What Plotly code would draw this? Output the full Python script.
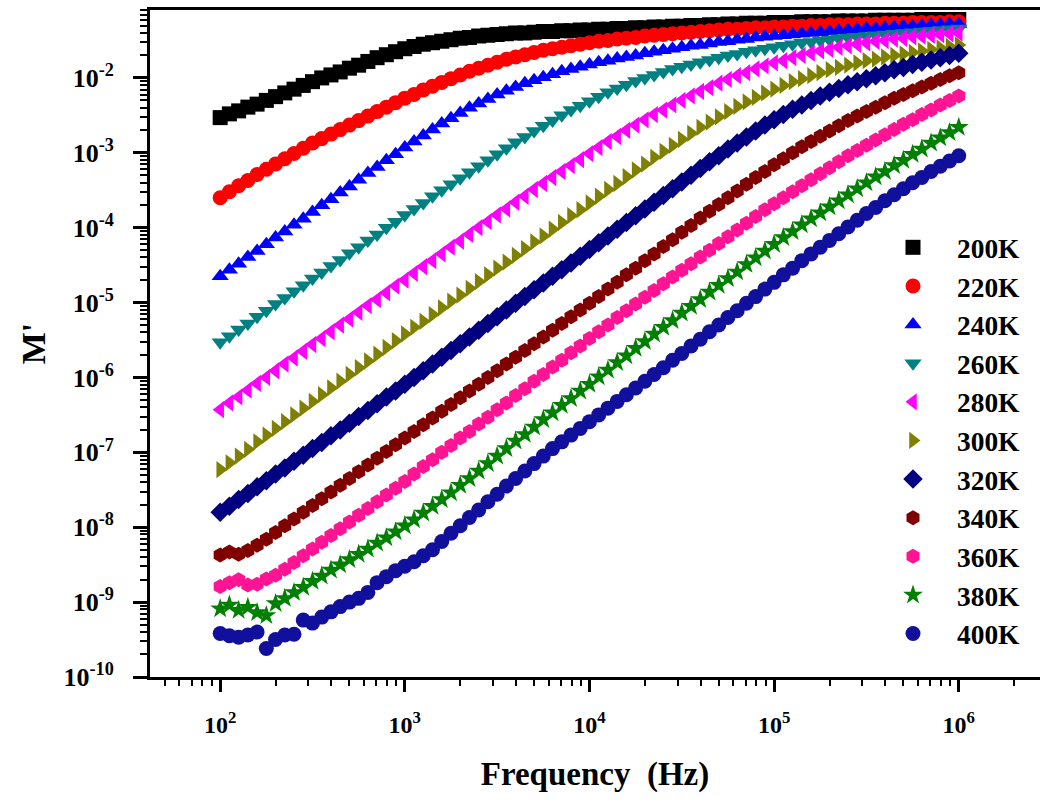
import plotly.graph_objects as go

# ---- data (log10 of frequency in Hz, log10 of M') ----
LOG_F = [2.00, 2.05, 2.10, 2.15, 2.20, 2.25, 2.30, 2.35, 2.40, 2.45,
         2.50, 2.55, 2.60, 2.65, 2.70, 2.75, 2.80, 2.85, 2.90, 2.95,
         3.00, 3.05, 3.10, 3.15, 3.20, 3.25, 3.30, 3.35, 3.40, 3.45,
         3.50, 3.55, 3.60, 3.65, 3.70, 3.75, 3.80, 3.85, 3.90, 3.95,
         4.00, 4.05, 4.10, 4.15, 4.20, 4.25, 4.30, 4.35, 4.40, 4.45,
         4.50, 4.55, 4.60, 4.65, 4.70, 4.75, 4.80, 4.85, 4.90, 4.95,
         5.00, 5.05, 5.10, 5.15, 5.20, 5.25, 5.30, 5.35, 5.40, 5.45,
         5.50, 5.55, 5.60, 5.65, 5.70, 5.75, 5.80, 5.85, 5.90, 5.95,
         6.00]

M_200K = [-2.53, -2.48, -2.44, -2.39, -2.35, -2.30, -2.25, -2.20, -2.15, -2.10,
          -2.05, -2.00, -1.96, -1.92, -1.87, -1.83, -1.78, -1.73, -1.69, -1.65,
          -1.61, -1.58, -1.55, -1.53, -1.51, -1.49, -1.47, -1.46, -1.44, -1.43,
          -1.42, -1.41, -1.40, -1.40, -1.39, -1.38, -1.38, -1.37, -1.37, -1.36,
          -1.36, -1.35, -1.35, -1.34, -1.34, -1.33, -1.33, -1.32, -1.32, -1.31,
          -1.31, -1.30, -1.30, -1.29, -1.29, -1.28, -1.28, -1.27, -1.27, -1.27,
          -1.26, -1.26, -1.26, -1.25, -1.25, -1.25, -1.25, -1.24, -1.24, -1.24,
          -1.24, -1.23, -1.23, -1.23, -1.23, -1.23, -1.22, -1.22, -1.22, -1.22,
          -1.22]
M_220K = [-3.60, -3.52, -3.44, -3.37, -3.29, -3.22, -3.15, -3.08, -3.01, -2.94,
          -2.87, -2.81, -2.75, -2.69, -2.63, -2.57, -2.51, -2.45, -2.39, -2.33,
          -2.27, -2.22, -2.16, -2.11, -2.06, -2.01, -1.96, -1.91, -1.87, -1.83,
          -1.79, -1.75, -1.72, -1.69, -1.66, -1.63, -1.61, -1.59, -1.57, -1.55,
          -1.53, -1.51, -1.50, -1.48, -1.47, -1.46, -1.44, -1.43, -1.42, -1.41,
          -1.40, -1.39, -1.38, -1.37, -1.36, -1.35, -1.35, -1.34, -1.33, -1.33,
          -1.32, -1.32, -1.31, -1.31, -1.30, -1.30, -1.29, -1.29, -1.29, -1.28,
          -1.28, -1.28, -1.27, -1.27, -1.27, -1.26, -1.26, -1.26, -1.26, -1.25,
          -1.25]
M_240K = [-4.65, -4.56, -4.48, -4.39, -4.31, -4.22, -4.13, -4.05, -3.96, -3.88,
          -3.79, -3.70, -3.62, -3.53, -3.45, -3.36, -3.27, -3.19, -3.10, -3.02,
          -2.93, -2.85, -2.77, -2.69, -2.61, -2.54, -2.47, -2.40, -2.34, -2.28,
          -2.22, -2.17, -2.12, -2.07, -2.03, -1.99, -1.95, -1.91, -1.88, -1.85,
          -1.82, -1.79, -1.77, -1.74, -1.72, -1.70, -1.67, -1.65, -1.63, -1.61,
          -1.59, -1.57, -1.56, -1.54, -1.52, -1.51, -1.49, -1.48, -1.46, -1.45,
          -1.44, -1.43, -1.42, -1.41, -1.40, -1.39, -1.38, -1.37, -1.36, -1.35,
          -1.34, -1.34, -1.33, -1.32, -1.31, -1.31, -1.30, -1.29, -1.29, -1.28,
          -1.28]
M_260K = [-5.53, -5.45, -5.36, -5.28, -5.19, -5.11, -5.02, -4.94, -4.85, -4.77,
          -4.68, -4.60, -4.51, -4.43, -4.34, -4.26, -4.17, -4.09, -4.00, -3.92,
          -3.83, -3.75, -3.67, -3.58, -3.50, -3.42, -3.34, -3.26, -3.18, -3.10,
          -3.02, -2.94, -2.86, -2.79, -2.71, -2.64, -2.57, -2.50, -2.43, -2.37,
          -2.31, -2.25, -2.19, -2.14, -2.09, -2.04, -2.00, -1.96, -1.92, -1.88,
          -1.85, -1.82, -1.79, -1.76, -1.73, -1.70, -1.68, -1.65, -1.63, -1.61,
          -1.59, -1.57, -1.55, -1.53, -1.52, -1.50, -1.49, -1.47, -1.46, -1.45,
          -1.44, -1.43, -1.42, -1.41, -1.40, -1.39, -1.38, -1.37, -1.36, -1.35,
          -1.34]
M_280K = [-6.43, -6.34, -6.26, -6.17, -6.08, -6.00, -5.91, -5.82, -5.74, -5.65,
          -5.56, -5.48, -5.39, -5.30, -5.22, -5.13, -5.04, -4.96, -4.87, -4.78,
          -4.70, -4.61, -4.52, -4.44, -4.35, -4.26, -4.18, -4.09, -4.00, -3.92,
          -3.83, -3.75, -3.66, -3.58, -3.49, -3.41, -3.33, -3.25, -3.17, -3.09,
          -3.01, -2.93, -2.85, -2.78, -2.70, -2.63, -2.56, -2.49, -2.43, -2.36,
          -2.30, -2.24, -2.18, -2.13, -2.07, -2.02, -1.97, -1.93, -1.88, -1.84,
          -1.80, -1.77, -1.73, -1.70, -1.67, -1.64, -1.62, -1.59, -1.57, -1.55,
          -1.53, -1.51, -1.50, -1.48, -1.47, -1.45, -1.44, -1.43, -1.42, -1.41,
          -1.40]
M_300K = [-7.23, -7.14, -7.05, -6.96, -6.86, -6.77, -6.68, -6.59, -6.50, -6.41,
          -6.32, -6.23, -6.14, -6.05, -5.96, -5.87, -5.78, -5.69, -5.60, -5.51,
          -5.42, -5.33, -5.25, -5.16, -5.07, -4.98, -4.90, -4.81, -4.72, -4.63,
          -4.54, -4.46, -4.37, -4.28, -4.19, -4.11, -4.02, -3.93, -3.84, -3.76,
          -3.67, -3.58, -3.49, -3.41, -3.32, -3.23, -3.15, -3.06, -2.98, -2.90,
          -2.82, -2.74, -2.66, -2.59, -2.52, -2.45, -2.38, -2.32, -2.26, -2.20,
          -2.15, -2.10, -2.05, -2.01, -1.97, -1.93, -1.89, -1.86, -1.83, -1.80,
          -1.77, -1.75, -1.72, -1.70, -1.68, -1.66, -1.64, -1.62, -1.60, -1.58,
          -1.56]
M_320K = [-7.80, -7.72, -7.63, -7.55, -7.46, -7.38, -7.29, -7.21, -7.12, -7.04,
          -6.95, -6.87, -6.78, -6.70, -6.61, -6.52, -6.44, -6.35, -6.26, -6.18,
          -6.09, -6.00, -5.91, -5.82, -5.73, -5.64, -5.55, -5.46, -5.37, -5.28,
          -5.19, -5.10, -5.01, -4.92, -4.83, -4.74, -4.65, -4.56, -4.47, -4.38,
          -4.29, -4.20, -4.11, -4.02, -3.93, -3.84, -3.75, -3.66, -3.57, -3.48,
          -3.39, -3.30, -3.21, -3.12, -3.04, -2.95, -2.87, -2.79, -2.71, -2.63,
          -2.56, -2.49, -2.42, -2.36, -2.30, -2.24, -2.19, -2.14, -2.09, -2.05,
          -2.01, -1.97, -1.93, -1.89, -1.86, -1.82, -1.79, -1.76, -1.73, -1.70,
          -1.67]
M_340K = [-8.37, -8.33, -8.36, -8.31, -8.24, -8.16, -8.07, -7.98, -7.89, -7.80,
          -7.71, -7.62, -7.53, -7.44, -7.35, -7.26, -7.17, -7.08, -6.99, -6.90,
          -6.81, -6.72, -6.63, -6.54, -6.45, -6.36, -6.27, -6.18, -6.09, -6.00,
          -5.91, -5.82, -5.73, -5.64, -5.55, -5.46, -5.37, -5.28, -5.19, -5.10,
          -5.01, -4.92, -4.82, -4.73, -4.63, -4.54, -4.44, -4.35, -4.25, -4.16,
          -4.06, -3.97, -3.87, -3.78, -3.69, -3.60, -3.51, -3.42, -3.33, -3.25,
          -3.16, -3.08, -3.00, -2.92, -2.85, -2.78, -2.71, -2.64, -2.57, -2.51,
          -2.45, -2.39, -2.33, -2.27, -2.22, -2.17, -2.12, -2.07, -2.02, -1.97,
          -1.93]
M_360K = [-8.79, -8.74, -8.70, -8.77, -8.76, -8.69, -8.64, -8.56, -8.47, -8.38,
          -8.29, -8.20, -8.11, -8.02, -7.93, -7.84, -7.75, -7.66, -7.57, -7.48,
          -7.39, -7.29, -7.19, -7.10, -7.00, -6.91, -6.81, -6.72, -6.62, -6.53,
          -6.43, -6.34, -6.24, -6.15, -6.05, -5.96, -5.86, -5.77, -5.67, -5.58,
          -5.48, -5.39, -5.30, -5.20, -5.11, -5.02, -4.93, -4.84, -4.75, -4.66,
          -4.57, -4.48, -4.39, -4.30, -4.21, -4.12, -4.03, -3.94, -3.85, -3.76,
          -3.68, -3.60, -3.52, -3.44, -3.36, -3.28, -3.20, -3.12, -3.04, -2.97,
          -2.90, -2.83, -2.76, -2.69, -2.62, -2.56, -2.49, -2.43, -2.36, -2.30,
          -2.24]
M_380K = [-9.09, -9.04, -9.11, -9.07, -9.14, -9.18, -9.02, -8.95, -8.87, -8.80,
          -8.72, -8.65, -8.57, -8.50, -8.43, -8.36, -8.29, -8.21, -8.14, -8.06,
          -7.98, -7.90, -7.81, -7.72, -7.63, -7.54, -7.44, -7.35, -7.25, -7.15,
          -7.05, -6.95, -6.85, -6.76, -6.66, -6.56, -6.47, -6.37, -6.28, -6.18,
          -6.09, -5.99, -5.90, -5.80, -5.71, -5.61, -5.52, -5.42, -5.33, -5.24,
          -5.14, -5.05, -4.96, -4.86, -4.77, -4.68, -4.59, -4.49, -4.40, -4.31,
          -4.22, -4.13, -4.05, -3.96, -3.88, -3.80, -3.72, -3.64, -3.56, -3.48,
          -3.40, -3.32, -3.25, -3.17, -3.10, -3.02, -2.95, -2.87, -2.80, -2.73,
          -2.66]
M_400K = [-9.42, -9.45, -9.47, -9.44, -9.40, -9.62, -9.50, -9.44, -9.43, -9.24,
          -9.28, -9.20, -9.13, -9.06, -9.00, -8.95, -8.87, -8.74, -8.66, -8.58,
          -8.52, -8.46, -8.38, -8.30, -8.19, -8.08, -7.98, -7.87, -7.77, -7.66,
          -7.56, -7.45, -7.35, -7.25, -7.15, -7.05, -6.95, -6.86, -6.77, -6.68,
          -6.59, -6.50, -6.41, -6.32, -6.23, -6.14, -6.05, -5.96, -5.87, -5.77,
          -5.68, -5.58, -5.49, -5.39, -5.30, -5.20, -5.11, -5.01, -4.92, -4.82,
          -4.73, -4.63, -4.54, -4.44, -4.35, -4.26, -4.17, -4.08, -3.99, -3.90,
          -3.81, -3.73, -3.64, -3.56, -3.48, -3.40, -3.33, -3.25, -3.18, -3.11,
          -3.04]

NAMES = ["200K", "220K", "240K", "260K", "280K", "300K",
         "320K", "340K", "360K", "380K", "400K"]
SERIES = [M_200K, M_220K, M_240K, M_260K, M_280K, M_300K,
          M_320K, M_340K, M_360K, M_380K, M_400K]
COLORS = ["#000000", "#FF0000", "#0000FF", "#008080", "#FF00FF", "#808000",
          "#000080", "#800000", "#FF1493", "#008000", "#10109C"]
SYMBOLS = ["square", "circle", "triangle-up", "triangle-down", "triangle-left",
           "triangle-right", "diamond", "hexagon", "hexagon", "star", "circle"]

X_TICK_EXP = [2, 3, 4, 5, 6]
Y_TICK_EXP = [-10, -9, -8, -7, -6, -5, -4, -3, -2]

FONT = "Liberation Serif"

freq = [10 ** v for v in LOG_F]

fig = go.Figure()
for name, vals, col, sym in zip(NAMES, SERIES, COLORS, SYMBOLS):
    fig.add_trace(go.Scatter(
        x=freq, y=[10 ** v for v in vals], mode="markers", name=name,
        marker=dict(symbol=sym, size=15, color=col, line=dict(width=0)),
    ))

x_minor = [k * 10 ** e for e in range(1, 7) for k in range(2, 10)]
y_minor = [k * 10 ** e for e in range(-10, -1) for k in range(2, 10)]

fig.update_layout(
    width=1040, height=804,
    margin=dict(l=150, r=0, t=10, b=127),
    paper_bgcolor="white", plot_bgcolor="white",
    font=dict(family=FONT, color="black"),
    showlegend=True,
    legend=dict(
        x=(869 - 150) / 890, y=(677 - 223) / 667, xanchor="left", yanchor="top",
        font=dict(family=FONT, size=27.4, color="black", weight="bold"),
        bgcolor="rgba(0,0,0,0)", borderwidth=0, itemwidth=78,
    ),
    xaxis=dict(
        type="log", range=[1.62, 6.44],
        showline=True, linewidth=3, linecolor="black", mirror=True,
        showgrid=False, zeroline=False,
        ticks="outside", ticklen=12, tickwidth=3, tickcolor="black",
        tickvals=[10 ** e for e in X_TICK_EXP],
        ticktext=["10<sup>%d</sup>" % e for e in X_TICK_EXP],
        tickfont=dict(family=FONT, size=24, color="black", weight="bold"),
        ticklabelstandoff=12,
        minor=dict(ticks="outside", ticklen=6, tickwidth=2, tickcolor="black",
                   tickvals=x_minor, showgrid=False),
        title=dict(text="Frequency  (Hz)", standoff=26,
                   font=dict(family=FONT, size=33, color="black", weight="bold")),
    ),
    yaxis=dict(
        type="log", range=[-10, -1.093],
        showline=True, linewidth=3, linecolor="black", mirror=False,
        showgrid=False, zeroline=False,
        ticks="outside", ticklen=14, tickwidth=3, tickcolor="black",
        tickvals=[10 ** e for e in Y_TICK_EXP],
        ticktext=["10<sup>%d</sup>" % e for e in Y_TICK_EXP],
        tickfont=dict(family=FONT, size=26, color="black", weight="bold"),
        ticklabelstandoff=14,
        minor=dict(ticks="outside", ticklen=7, tickwidth=2, tickcolor="black",
                   tickvals=y_minor, showgrid=False),
        title=dict(text="M'", standoff=8,
                   font=dict(family=FONT, size=34, color="black", weight="bold")),
    ),
)

fig.write_html("out.html")
